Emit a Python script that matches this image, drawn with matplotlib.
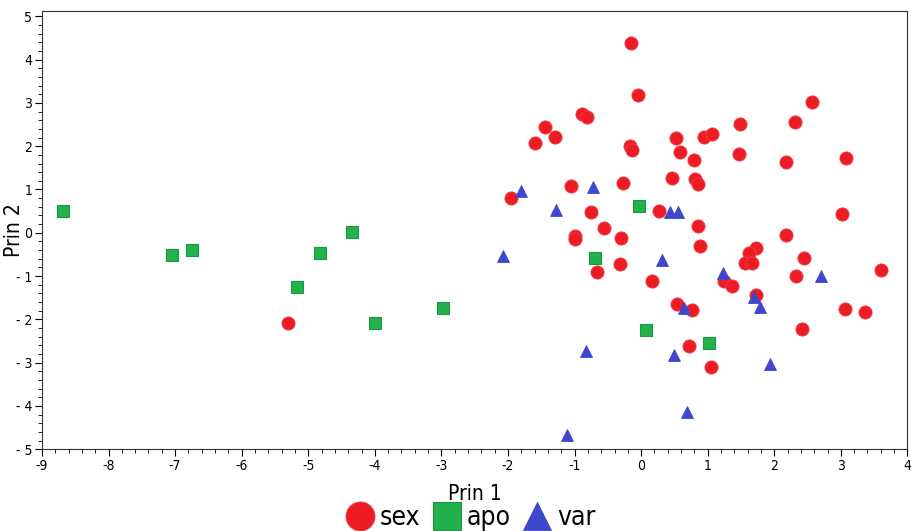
import matplotlib.pyplot as plt
from matplotlib.ticker import MultipleLocator, FuncFormatter

plt.rcParams['font.family'] = ['DejaVu Sans']
plt.rcParams['font.stretch'] = 'condensed'

# sex
sex_x = [-5.31, -0.15, -0.05, -0.89, -0.81, -1.44, -1.29, -1.59, -0.17, -0.14,
         0.52, 0.94, 1.06, 1.48, 2.31, 2.56, 0.59, 0.79, 1.47, 2.18,
         3.08, -0.27, 0.47, 0.81, 0.85, -1.05, -1.96, -0.75, 0.27, 3.02,
         -0.56, -0.99, -1.00, -0.30, 0.85, 0.89, 2.18, -0.32, -0.66, 0.16,
         1.73, 1.62, 1.56, 1.67, 2.45, 2.33, 3.61, 1.24, 1.37, 1.73,
         0.54, 0.77, 3.06, 3.37, 2.41, 0.72, 1.05]
sex_y = [-2.08, 4.38, 3.19, 2.75, 2.67, 2.44, 2.22, 2.08, 2.00, 1.91,
         2.20, 2.22, 2.28, 2.51, 2.57, 3.03, 1.87, 1.67, 1.83, 1.64,
         1.72, 1.16, 1.26, 1.24, 1.13, 1.08, 0.81, 0.47, 0.50, 0.44,
         0.12, -0.07, -0.15, -0.13, 0.16, -0.30, -0.04, -0.71, -0.90, -1.12,
         -0.35, -0.46, -0.70, -0.69, -0.59, -0.99, -0.87, -1.11, -1.22, -1.44,
         -1.64, -1.78, -1.77, -1.84, -2.23, -2.62, -3.10]

# apo
apo_x = [-8.68, -7.05, -6.74, -5.17, -4.83, -4.34, -4.00, -2.98, -0.03, -0.69, 0.07, 1.02]
apo_y = [0.50, -0.52, -0.39, -1.26, -0.47, 0.02, -2.08, -1.74, 0.63, -0.59, -2.25, -2.55]

# var
var_x = [-1.81, -0.73, -1.28, 0.43, 0.56, -2.08, 0.31, 1.23, 2.70, 1.70,
         1.78, 0.64, -0.83, 0.49, 1.94, 0.69, -1.11]
var_y = [0.97, 1.05, 0.52, 0.49, 0.49, -0.53, -0.63, -0.92, -1.00, -1.48,
         -1.71, -1.73, -2.72, -2.82, -3.03, -4.14, -4.68]

fig = plt.figure(figsize=(9.12, 5.31), dpi=100)
ax = fig.add_axes([0.046, 0.154, 0.949, 0.825])

ax.plot(sex_x, sex_y, 'o', color='#ed1c24', markersize=9.5, markeredgewidth=0.6,
        markeredgecolor='#f04048', label='sex', zorder=3)
ax.plot(apo_x, apo_y, 's', color='#22b14c', markersize=9, markeredgewidth=0.8,
        markeredgecolor='#1a9a3e', label='apo', zorder=3)
ax.plot(var_x, var_y, '^', color='#3f48cc', markersize=9, markeredgewidth=0.6,
        markeredgecolor='#3f48cc', label='var', zorder=4)

ax.set_xlim(-9, 4)
ax.set_ylim(-5, 5.12)
ax.xaxis.set_major_locator(MultipleLocator(1))
ax.xaxis.set_minor_locator(MultipleLocator(0.2))
ax.yaxis.set_major_locator(MultipleLocator(1))
ax.yaxis.set_minor_locator(MultipleLocator(0.2))
ax.yaxis.set_major_formatter(FuncFormatter(lambda v, p: '- %d' % abs(v) if v < 0 else '%d' % v))
ax.xaxis.set_major_formatter(FuncFormatter(lambda v, p: '%d' % v))
ax.tick_params(which='major', direction='out', length=5, labelsize=10, width=0.8, pad=2)
ax.tick_params(which='minor', direction='out', length=3, width=0.6)

for s in ax.spines.values():
    s.set_linewidth(0.8)
    s.set_color('#333333')

ax.set_xlabel('Prin 1', fontsize=15, labelpad=8)
ax.set_ylabel('Prin 2', fontsize=15)
ax.yaxis.set_label_coords(-0.021, 0.5)

fig.legend(loc='lower center', bbox_to_anchor=(0.515, -0.045), ncol=3, frameon=False,
           fontsize=19, markerscale=2.2, handletextpad=0.15, columnspacing=0.4,
           handlelength=1.2)

fig.savefig('out.png', dpi=100)
